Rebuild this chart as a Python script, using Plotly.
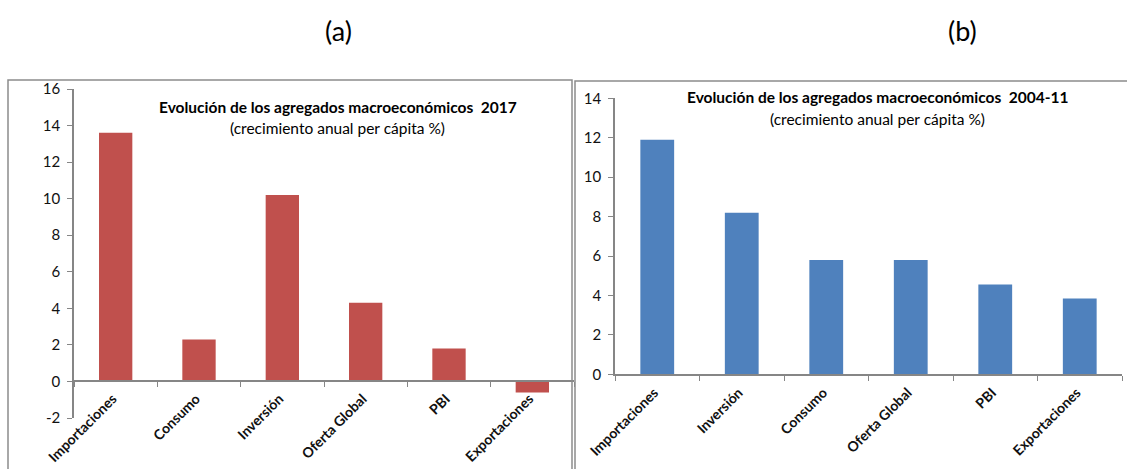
import plotly.graph_objects as go

W, H = 1127, 469

# Data
cats_a = ["Importaciones", "Consumo", "Inversión", "Oferta Global", "PBI", "Exportaciones"]
vals_a = [13.6, 2.3, 10.2, 4.3, 1.8, -0.6]
cats_b = ["Importaciones", "Inversión", "Consumo", "Oferta Global", "PBI", "Exportaciones"]
vals_b = [11.9, 8.2, 5.8, 5.8, 4.55, 3.85]
range_a = [-2, 16]
range_b = [0, 14]
yticks_a = [-2, 0, 2, 4, 6, 8, 10, 12, 14, 16]
yticklabels_a = ["-2", "0", "2", "4", "6", "8", "10", "12", "14", "16"]
yticks_b = [0, 2, 4, 6, 8, 10, 12, 14]
yticklabels_b = ["0", "2", "4", "6", "8", "10", "12", "14"]
title_a = "Evolución de los agregados macroeconómicos  2017"
title_b = "Evolución de los agregados macroeconómicos  2004-11"
subtitle = "(crecimiento anual per cápita %)"

FONT = "Lato"
AXC = "#868686"

def px_x(x):
    return x / W

def px_y(y):
    return 1 - y / H

fig = go.Figure()
fig.add_trace(go.Bar(x=cats_a, y=vals_a, marker=dict(color="#C0504D", line=dict(width=0)),
                     width=0.4, xaxis="x", yaxis="y", showlegend=False))
fig.add_trace(go.Bar(x=cats_b, y=vals_b, marker=dict(color="#4F81BD", line=dict(width=0)),
                     width=0.4, xaxis="x2", yaxis="y2", showlegend=False))

ya_dom = [px_y(418), px_y(89)]
yb_dom = [px_y(374.3), px_y(98.3)]
zero_frac_a = ya_dom[0] + (ya_dom[1] - ya_dom[0]) * (0 - range_a[0]) / (range_a[1] - range_a[0])

xax_common = dict(type="category", showline=True, linecolor=AXC, linewidth=1.5,
                  ticks="outside", ticklen=5, tickcolor=AXC, tickson="boundaries",
                  tickangle=-45, showgrid=False, zeroline=False, automargin=False,
                  ticklabelstandoff=3, ticklabelshift=-3,
                  tickfont=dict(family=FONT, size=14, color="#111", weight="bold"))
yax_common = dict(showline=True, linecolor=AXC, linewidth=1.5, ticks="outside", ticklen=5,
                  tickcolor=AXC, showgrid=False, zeroline=False, automargin=False,
                  ticklabelstandoff=4,
                  tickfont=dict(family=FONT, size=15, color="#111"))

fig.update_layout(
    template="none",
    width=W, height=H, margin=dict(l=0, r=0, t=0, b=0, autoexpand=False),
    paper_bgcolor="white", plot_bgcolor="white", bargap=0.6,
    xaxis=dict(domain=[px_x(74), px_x(574)], anchor="free", position=zero_frac_a, **xax_common),
    yaxis=dict(domain=ya_dom, range=range_a, anchor="x", tickvals=yticks_a, ticktext=yticklabels_a,
               **yax_common),
    xaxis2=dict(domain=[px_x(615), px_x(1122)], anchor="y2", **xax_common),
    yaxis2=dict(domain=yb_dom, range=range_b, anchor="x2", tickvals=yticks_b, ticktext=yticklabels_b,
                **yax_common),
    shapes=[
        dict(type="rect", xref="paper", yref="paper", x0=px_x(8), x1=px_x(572), y0=px_y(480), y1=px_y(80),
             line=dict(color="#8C8C8C", width=1.5)),
        dict(type="rect", xref="paper", yref="paper", x0=px_x(575), x1=px_x(1140), y0=px_y(480), y1=px_y(81),
             line=dict(color="#8C8C8C", width=1.5)),
    ],
    annotations=[
        dict(text="(a)", x=px_x(338), y=px_y(30), xref="paper", yref="paper", showarrow=False,
             xanchor="center", yanchor="middle", font=dict(family=FONT, size=27, color="black")),
        dict(text="(b)", x=px_x(962), y=px_y(30), xref="paper", yref="paper", showarrow=False,
             xanchor="center", yanchor="middle", font=dict(family=FONT, size=27, color="black")),
        dict(text="<b>" + title_a + "</b>", x=px_x(338), y=px_y(107), xref="paper", yref="paper",
             xanchor="center", yanchor="middle",
             showarrow=False, font=dict(family=FONT, size=15.5, color="black")),
        dict(text=subtitle, x=px_x(337), y=px_y(128), xref="paper", yref="paper",
             xanchor="center", yanchor="middle",
             showarrow=False, font=dict(family=FONT, size=15.5, color="black")),
        dict(text="<b>" + title_b + "</b>", x=px_x(878), y=px_y(97), xref="paper", yref="paper",
             xanchor="center", yanchor="middle",
             showarrow=False, font=dict(family=FONT, size=15.5, color="black")),
        dict(text=subtitle, x=px_x(877), y=px_y(119), xref="paper", yref="paper",
             xanchor="center", yanchor="middle",
             showarrow=False, font=dict(family=FONT, size=15.5, color="black")),
    ],
)

fig.write_html("out.html")
